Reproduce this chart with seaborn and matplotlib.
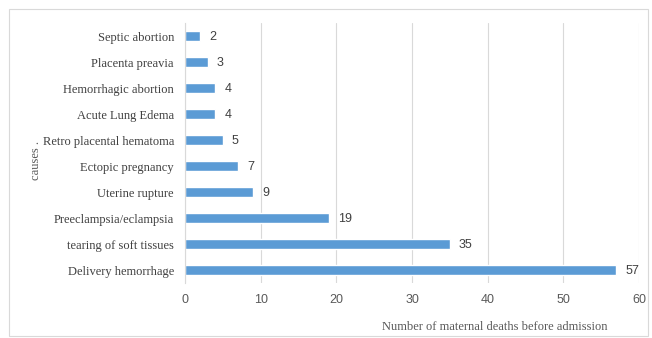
import matplotlib
matplotlib.use("Agg")
import matplotlib.pyplot as plt
import seaborn as sns
import pandas as pd
from matplotlib.patches import Rectangle

causes = ["Septic abortion", "Placenta preavia", "Hemorrhagic abortion", "Acute Lung Edema",
          "Retro placental hematoma", "Ectopic pregnancy", "Uterine rupture",
          "Preeclampsia/eclampsia", "tearing of soft tissues", "Delivery hemorrhage"]
deaths = [2, 3, 4, 4, 5, 7, 9, 19, 35, 57]
xticks = [0, 10, 20, 30, 40, 50, 60]

df = pd.DataFrame({"cause": causes, "deaths": deaths})

sns.set_theme(style="white")
fig = plt.figure(figsize=(6.52, 3.38), dpi=100)
ax = fig.add_axes([185/652, 55/338, 454/652, 260/338])

sns.barplot(data=df, y="cause", x="deaths", orient="h", color="#5B9BD5",
            saturation=1, width=0.42, ax=ax)

ax.set_xlim(0, 60)
ax.set_xticks(xticks)
ax.set_xticklabels([str(t) for t in xticks], fontsize=9, color="#595959",
                   family="Liberation Sans")
ax.set_yticks(range(len(causes)))
ax.set_yticklabels(causes, fontsize=9, color="#404040", family="Liberation Serif")
ax.tick_params(axis="both", length=0, pad=8)
ax.grid(axis="x", color="#D9D9D9", linewidth=0.8)
ax.set_axisbelow(True)
for s in ["top", "right", "bottom"]:
    ax.spines[s].set_visible(False)
ax.spines["left"].set_color("#D9D9D9")
ax.spines["left"].set_linewidth(0.8)

for i, v in enumerate(deaths):
    ax.text(v + 1.2, i, str(v), va="center_baseline", ha="left", fontsize=9,
            color="#404040", family="Liberation Sans")

ax.set_xlabel("Number of maternal deaths before admission", fontsize=9,
              color="#595959", family="Liberation Serif")
ax.xaxis.set_label_coords(0.683, -0.145)
ax.set_ylabel("causes .", fontsize=9, color="#595959", family="Liberation Serif")
ax.yaxis.set_label_coords(-0.315, 0.47)

fig.patches.append(Rectangle((9/652, 2/338), 639/652, 327/338, transform=fig.transFigure,
                             fill=False, edgecolor="#D9D9D9", linewidth=0.8))

fig.savefig("out.png", dpi=100)
